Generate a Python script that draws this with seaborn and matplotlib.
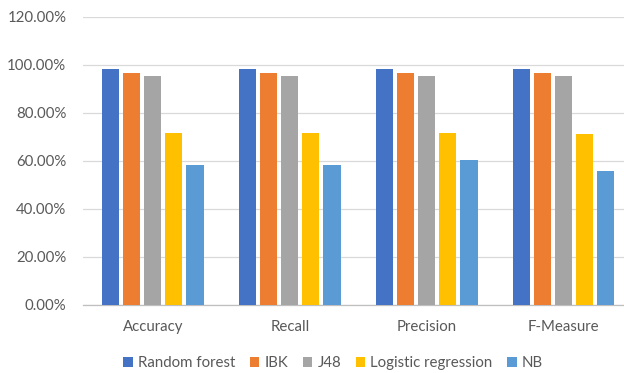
import matplotlib
matplotlib.use("Agg")
import matplotlib.pyplot as plt
import seaborn as sns
import pandas as pd
from matplotlib.ticker import FuncFormatter

metrics = ["Accuracy", "Recall", "Precision", "F-Measure"]
models = ["Random forest", "IBK", "J48", "Logistic regression", "NB"]
random_forest = [0.982, 0.982, 0.982, 0.982]
ibk = [0.967, 0.967, 0.967, 0.967]
j48 = [0.955, 0.955, 0.954, 0.954]
logistic_regression = [0.715, 0.715, 0.717, 0.712]
nb = [0.582, 0.582, 0.605, 0.560]
colors = ["#4472C4", "#ED7D31", "#A5A5A5", "#FFC000", "#5B9BD5"]

series = [random_forest, ibk, j48, logistic_regression, nb]
rows = []
for m, vals in zip(models, series):
    for metric, v in zip(metrics, vals):
        rows.append({"Metric": metric, "Model": m, "Value": v})
df = pd.DataFrame(rows)

sns.set_style("white")
plt.rcParams["font.family"] = ["Lato", "DejaVu Sans"]

fig = plt.figure(figsize=(6.24, 3.73), dpi=100)
ax = fig.add_axes([83 / 624, (373 - 305) / 373, 1 - 83 / 624, (305 - 17) / 373])

sns.barplot(data=df, x="Metric", y="Value", hue="Model", order=metrics,
            hue_order=models, palette=colors, width=0.77, gap=0.19,
            saturation=1, ax=ax, zorder=3, edgecolor="none")

ax.set_xlim(-0.51, 3.44)
ax.set_ylim(0, 1.2)
ax.set_yticks([0, 0.2, 0.4, 0.6, 0.8, 1.0, 1.2])
ax.yaxis.set_major_formatter(FuncFormatter(lambda v, p: f"{v*100:.2f}%"))
ax.grid(axis="y", color="#D9D9D9", linewidth=0.9, zorder=0)
ax.set_axisbelow(True)
for s in ["top", "right", "left"]:
    ax.spines[s].set_visible(False)
ax.spines["bottom"].set_color("#BFBFBF")
ax.spines["bottom"].set_linewidth(0.9)
ax.set_xlabel("")
ax.set_ylabel("")
ax.tick_params(axis="y", length=0, pad=12, labelsize=10.8, labelcolor="#595959")
ax.tick_params(axis="x", length=0, pad=11, labelsize=10.8, labelcolor="#595959")

handles, labels = ax.get_legend_handles_labels()
ax.legend_.remove()
fig.legend(handles, labels, loc="center", bbox_to_anchor=(333 / 624, 1 - 363 / 373),
           ncol=5, frameon=False, fontsize=10.8, handlelength=0.65, handleheight=0.65,
           handletextpad=0.35, columnspacing=0.95, labelcolor="#595959")

fig.savefig("out.png", dpi=100)
